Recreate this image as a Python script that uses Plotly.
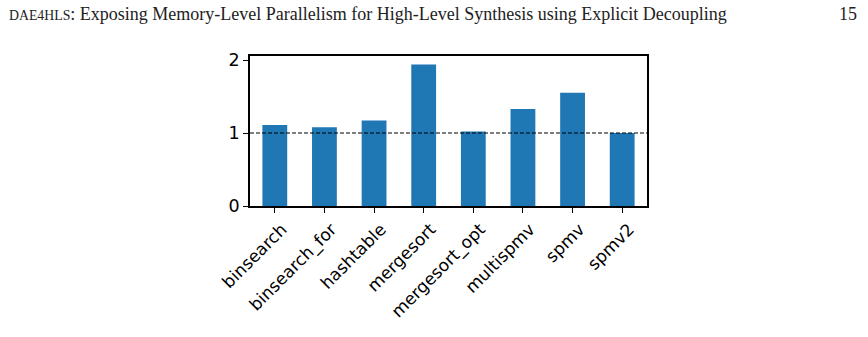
import plotly.graph_objects as go

categories = ["binsearch", "binsearch_for", "hashtable", "mergesort",
              "mergesort_opt", "multispmv", "spmv", "spmv2"]
speedup = [1.11, 1.08, 1.17, 1.94, 1.02, 1.33, 1.55, 1.00]
y_ticks = [0, 1, 2]
header = "<span style='font-size:13.8px'>DAE4HLS</span>: Exposing Memory-Level Parallelism for High-Level Synthesis using Explicit Decoupling"
page_no = "15"

W, H = 868, 337
L, R, T, B = 250, 647, 56, 206

fig = go.Figure()
fig.add_trace(go.Bar(x=list(range(len(categories))), y=speedup,
                     width=0.5, marker=dict(color="#1f77b4", line=dict(width=0))))

fig.add_shape(type="line", xref="x domain", yref="y", x0=0, x1=1, y0=1, y1=1,
              line=dict(color="black", width=1, dash="4px,2px"))

fig.update_layout(
    width=W, height=H,
    margin=dict(l=L, r=W - R, t=T, b=H - B, pad=0),
    paper_bgcolor="white", plot_bgcolor="white",
    showlegend=False,
    font=dict(family="DejaVu Sans", size=17, color="black"),
    xaxis=dict(range=[-0.5, 7.5], tickmode="array",
               tickvals=list(range(len(categories))), ticktext=categories,
               tickangle=-45, ticks="outside", ticklen=5, tickwidth=1.2,
               tickcolor="black", showgrid=False, zeroline=False,
               showline=True, linecolor="black", linewidth=1.5, mirror=True,
               ticklabelshift=7,
               tickfont=dict(family="DejaVu Sans", size=17)),
    yaxis=dict(range=[0, 2.055], tickmode="array", tickvals=y_ticks,
               ticks="outside", ticklen=5, tickwidth=1.2, tickcolor="black",
               showgrid=False, zeroline=False,
               showline=True, linecolor="black", linewidth=1.5, mirror=True,
               tickfont=dict(family="DejaVu Sans", size=17.5)),
)

hy = 1 + (T - 14) / (B - T)
fig.add_annotation(text=header, xref="paper", yref="paper",
                   x=(7 - L) / (R - L), y=hy,
                   xanchor="left", yanchor="middle", showarrow=False,
                   font=dict(family="Liberation Serif", size=18, color="#222"))
fig.add_annotation(text=page_no, xref="paper", yref="paper",
                   x=(859 - L) / (R - L), y=hy,
                   xanchor="right", yanchor="middle", showarrow=False,
                   font=dict(family="Liberation Serif", size=18, color="#222"))

fig.write_html("out.html")
